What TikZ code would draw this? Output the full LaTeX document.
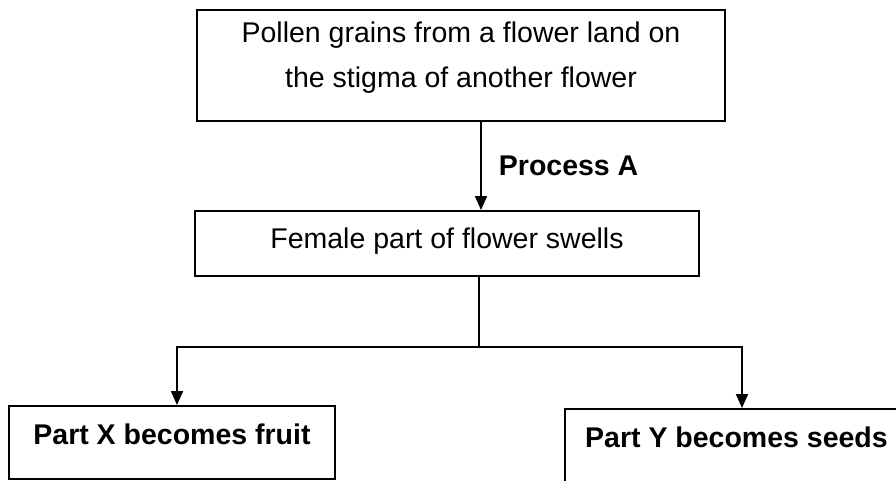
\documentclass[tikz,border=0pt]{standalone}
\usepackage{fontspec}
\setmainfont{Liberation Sans}
\usetikzlibrary{arrows.meta,positioning}

\begin{document}
\begin{tikzpicture}[x=1pt,y=-1pt,>={Triangle[length=14pt,width=12pt]},
  every node/.style={font=\fontsize{28.5}{45}\selectfont},
  box/.style={draw,line width=2pt,inner sep=0pt,align=center},
  link/.style={line width=1.8pt}]
\clip (0,0) rectangle (896,481);
\node[box,minimum width=528pt,minimum height=111pt,text depth=21pt] (pollen) at (461,65.5) {Pollen grains from a flower land on\\the stigma of another flower};
\node[box,minimum width=504pt,minimum height=65pt,text depth=11pt] (swell) at (447,243.5) {Female part of flower swells};
\node[box,minimum width=326pt,minimum height=73pt,text depth=17pt,font=\fontsize{28.5}{45}\selectfont\bfseries] (fruit) at (172,442.5) {Part X becomes fruit};
\node[box,minimum width=343pt,minimum height=74pt,text depth=17pt,font=\fontsize{28.5}{45}\selectfont\bfseries] (seeds) at (736.5,446) {Part Y becomes seeds};
\coordinate (stem) at (481,0);
\coordinate (fork) at (479,347);
\draw[link,->] (pollen.south -| stem) -- node[right=17pt,inner sep=0pt,font=\fontsize{28.5}{45}\selectfont\bfseries]{Process A} (swell.north -| stem);
\draw[link] (swell.south -| fork) -- (fork);
\draw[link,->] (fork) -| ([xshift=5pt]fruit.north);
\draw[link,->] (fork) -| ([xshift=5.5pt]seeds.north);
\end{tikzpicture}
\end{document}
